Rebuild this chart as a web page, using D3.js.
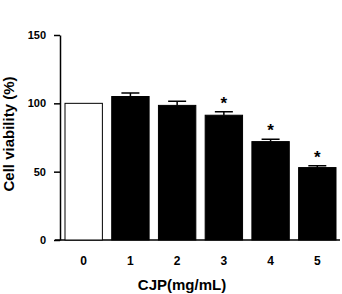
<!DOCTYPE html>
<html>
<head>
  <script src="https://d3js.org/d3.v7.min.js"></script>
  <style>
    body { margin: 0; background: #fff; }
    text { font-family: "Liberation Sans", Arial, sans-serif; font-weight: bold; fill: #000; }
    .axis path, .axis line { stroke: #000; stroke-width: 1.5; }
  </style>
</head>
<body>
  <svg width="342" height="294"></svg>
  <script>
    var categories = ["0", "1", "2", "3", "4", "5"];
    var viability = [100, 105, 98.5, 91.3, 72, 53];
    var errors = [0, 2.5, 3, 2.6, 1.7, 1.4];
    var significant = [false, false, false, true, true, true];
    var yTicks = [0, 50, 100, 150];

    var data = categories.map(function(c, i) {
      return {name: c, value: viability[i], err: errors[i], sig: significant[i], control: i === 0};
    });

    var svg = d3.select("svg"),
      margin = {top: 35, right: 2, bottom: 54, left: 60},
      width = +svg.attr("width") - margin.left - margin.right,
      height = +svg.attr("height") - margin.top - margin.bottom;

    var x = d3.scaleBand().domain(categories).range([5, width - 4]).paddingInner(0.2).paddingOuter(0),
      y = d3.scaleLinear().domain([0, 150]).range([height, 0]);

    var g = svg.append("g")
      .attr("transform", "translate(" + margin.left + "," + margin.top + ")");

    // x axis: plain baseline, no ticks
    g.append("g")
      .attr("class", "axis")
      .attr("transform", "translate(0," + height + ")")
      .call(d3.axisBottom(x).tickSize(0).tickPadding(16))
      .call(function(a) { a.select(".domain").attr("d", "M-5,0H" + width); })
      .selectAll("text").style("font-size", "12px");

    g.append("g")
      .attr("class", "axis")
      .call(d3.axisLeft(y).tickValues(yTicks).tickSize(6).tickSizeOuter(0).tickPadding(8))
      .selectAll("text").style("font-size", "11px");

    var bars = g.selectAll(".bar")
      .data(data)
      .enter().append("g").attr("class", "bar");

    // error bars (upper half only) drawn before bars
    bars.filter(function(d) { return d.err > 0; })
      .append("path")
      .attr("fill", "none").attr("stroke", "#000").attr("stroke-width", 1.5)
      .attr("d", function(d) {
        var cx = x(d.name) + x.bandwidth() / 2, w = 9;
        return "M" + cx + "," + y(d.value) + "V" + y(d.value + d.err) +
          "M" + (cx - w) + "," + y(d.value + d.err) + "H" + (cx + w);
      });

    bars.append("rect")
      .attr("x", function(d) { return x(d.name); })
      .attr("y", function(d) { return y(d.value); })
      .attr("width", x.bandwidth())
      .attr("height", function(d) { return height - y(d.value); })
      .attr("fill", function(d) { return d.control ? "#fff" : "#000"; })
      .attr("stroke", "#000")
      .attr("stroke-width", 1);

    bars.filter(function(d) { return d.sig; })
      .append("text")
      .attr("x", function(d) { return x(d.name) + x.bandwidth() / 2; })
      .attr("y", function(d) { return y(d.value + d.err) - 3; })
      .attr("text-anchor", "middle")
      .style("font-size", "17px")
      .text("*");

    svg.append("text")
      .attr("transform", "translate(14,134) rotate(-90)")
      .attr("text-anchor", "middle")
      .style("font-size", "15px")
      .text("Cell viability (%)");

    svg.append("text")
      .attr("x", margin.left + 122)
      .attr("y", 290)
      .attr("text-anchor", "middle")
      .style("font-size", "15px")
      .text("CJP(mg/mL)");
  </script>
</body>
</html>
